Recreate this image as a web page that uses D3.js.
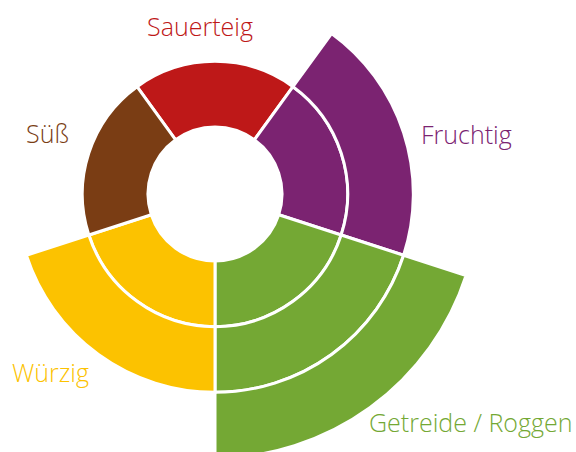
<!DOCTYPE html>
<html>
<head>
<meta charset="utf-8">
<script src="https://cdn.jsdelivr.net/npm/d3@7"></script>
<style>
  body { margin: 0; background: #fff; }
  svg { display: block; }
  .label { font-family: "Open Sans", sans-serif; font-weight: 300; font-size: 25px; }
</style>
</head>
<body>
<div id="chart"></div>
<script>
// flavour categories, clockwise starting at the top
var categories = ['Sauerteig', 'Fruchtig', 'Getreide / Roggen', 'Würzig', 'Süß'];
// intensity = number of rings per category
var values = [1, 2, 3, 2, 1];
var colors = ['#be1818', '#7b2371', '#74a834', '#fcc200', '#7a3d14'];
var maxValue = 3;

var width = 576,
  height = 452,
  cx = 215,
  cy = 194;

// label placement (layout only)
var labelPos = {
  'Sauerteig': { x: 200, y: 36, anchor: 'middle' },
  'Fruchtig': { x: 421, y: 144, anchor: 'start' },
  'Getreide / Roggen': { x: 369, y: 432, anchor: 'start' },
  'Würzig': { x: 12, y: 382, anchor: 'start' },
  'Süß': { x: 26, y: 143, anchor: 'start' }
};

var svg = d3.select('#chart').append('svg')
  .attr('width', width)
  .attr('height', height);

var g = svg.append('g')
  .attr('transform', 'translate(' + cx + ',' + cy + ')');

var r = d3.scaleLinear()
  .domain([0, maxValue])
  .range([67, 264]);

var slice = 2 * Math.PI / categories.length;
var angle = d3.scaleLinear()
  .domain([0, categories.length])
  .range([-slice / 2, 2 * Math.PI - slice / 2]);

// one cell per ring of each category
var cells = [];
categories.forEach(function (c, i) {
  d3.range(values[i]).forEach(function (k) {
    cells.push({ cat: c, i: i, ring: k });
  });
});

var arc = d3.arc()
  .innerRadius(function (d) { return r(d.ring); })
  .outerRadius(function (d) { return r(d.ring + 1); })
  .startAngle(function (d) { return angle(d.i); })
  .endAngle(function (d) { return angle(d.i + 1); });

g.selectAll('.cell')
  .data(cells)
  .enter()
  .append('path')
  .attr('class', 'cell')
  .attr('d', arc)
  .attr('fill', function (d) { return colors[d.i]; })
  .attr('stroke', '#fff')
  .attr('stroke-width', 3)
  .attr('stroke-linejoin', 'miter');

svg.selectAll('.label')
  .data(categories)
  .enter()
  .append('text')
  .attr('class', 'label')
  .attr('x', function (d) { return labelPos[d].x; })
  .attr('y', function (d) { return labelPos[d].y; })
  .attr('text-anchor', function (d) { return labelPos[d].anchor; })
  .attr('fill', function (d, i) { return colors[i]; })
  .text(function (d) { return d; });
</script>
</body>
</html>
